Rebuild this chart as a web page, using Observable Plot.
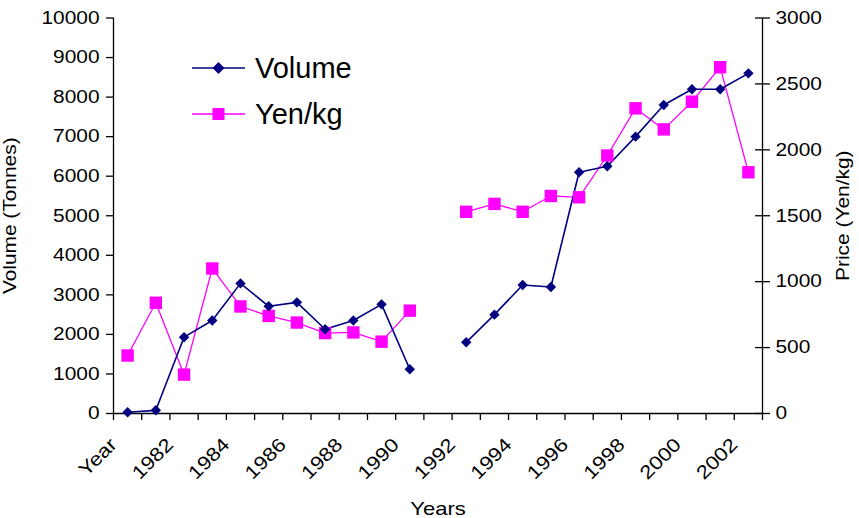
<!DOCTYPE html>
<html><head><meta charset="utf-8">
<script src="https://cdn.jsdelivr.net/npm/d3@7"></script>
<script src="https://cdn.jsdelivr.net/npm/@observablehq/plot@0.6"></script>
<style>
html,body{margin:0;padding:0;background:#fff;}
#wrap{position:relative;width:859px;height:518px;overflow:hidden;background:#fff;}
.legend{position:absolute;left:192px;top:45px;font-family:"Liberation Sans",Arial,sans-serif;font-size:29px;color:#000;}
.row{display:flex;align-items:center;height:46px;white-space:nowrap;}
.row svg{margin-right:8px;display:block;}
</style></head><body><div id="wrap"></div>
<script>
// Categories (first category labelled "Year" in the source chart)
const years = ["Year","1981","1982","1983","1984","1985","1986","1987","1988","1989","1990","1991",
               "1992","1993","1994","1995","1996","1997","1998","1999","2000","2001","2002"];
// Volume (Tonnes) – left axis
const volume = [30, 80, 1930, 2350, 3290, 2710, 2810, 2130, 2350, 2760, 1120, null,
                1800, 2500, 3250, 3200, 6100, 6250, 7000, 7800, 8200, 8200, 8600];
// Price (Yen/kg) – right axis
const price = [440, 840, 295, 1100, 812, 740, 690, 610, 615, 545, 780, null,
               1530, 1590, 1530, 1650, 1640, 1957, 2315, 2155, 2365, 2627, 1830];
const volumeTicks = [0,1000,2000,3000,4000,5000,6000,7000,8000,9000,10000];
const priceTicks = [0,500,1000,1500,2000,2500,3000];
const volumeMax = 10000, priceMax = 3000;
const seriesNames = ["Volume","Yen/kg"];
const volumeColor = "#000080", priceColor = "#ff00ff";

const ratio = volumeMax / priceMax;
const toLeft = p => p * ratio;
const data = years.map((y, i) => ({
  i, year: y,
  volume: volume[i] == null ? null : volume[i],
  price: price[i] == null ? null : toLeft(price[i])
}));
const labelIdx = d3.range(0, years.length, 2);
const boundaries = d3.range(-0.5, years.length, 1);

const FONT = "'Liberation Sans', Arial, sans-serif";
const chart = Plot.plot({
  width: 859, height: 518,
  marginLeft: 113, marginRight: 97, marginTop: 17.5, marginBottom: 105,
  style: {fontFamily: FONT, fontSize: "18px", color: "#000", background: "#fff", overflow: "visible"},
  x: {type: "linear", domain: [-0.5, years.length - 0.5]},
  y: {type: "linear", domain: [0, volumeMax]},
  marks: [
    // axis lines
    Plot.ruleY([0], {stroke: "#000", strokeWidth: 1.3}),
    Plot.ruleX([-0.5, years.length - 0.5], {stroke: "#000", strokeWidth: 1.3}),
    // bottom tick marks between categories
    Plot.axisX({ticks: boundaries, tickSize: 7, tickFormat: () => "", strokeWidth: 1.3, label: null}),
    // bottom labels
    Plot.axisX({ticks: labelIdx, tickSize: 0, tickPadding: 28, tickRotate: -45, tickFormat: i => years[i],
                fontSize: 19, dx: -14, label: "Years", labelAnchor: "center", labelArrow: "none", labelOffset: 101}),
    // left axis
    Plot.axisY({anchor: "left", ticks: volumeTicks, tickSize: 7, tickPadding: 7, strokeWidth: 1.3,
                tickFormat: v => String(v),
                label: "Volume (Tonnes)", labelAnchor: "center", labelArrow: "none", labelOffset: 110}),
    // right axis
    Plot.axisY({anchor: "right", ticks: priceTicks.map(toLeft), tickSize: 7, tickPadding: 6, strokeWidth: 1.3,
                tickFormat: v => String(Math.round(v / ratio)),
                label: "Price (Yen/kg)", labelAnchor: "center", labelArrow: "none", labelOffset: 86}),
    Plot.ruleY(priceTicks, {y: toLeft, x1: years.length - 0.5, x2: years.length - 0.5, insetLeft: -7, stroke: "#000", strokeWidth: 1.3}),
    // series
    Plot.line(data, {x: "i", y: "price", stroke: priceColor, strokeWidth: 1.3}),
    Plot.line(data, {x: "i", y: "volume", stroke: volumeColor, strokeWidth: 1.6}),
    Plot.dot(data, {x: "i", y: "price", symbol: "square", r: 7, fill: priceColor, stroke: "none"}),
    Plot.dot(data, {x: "i", y: "volume", symbol: "diamond2", r: 4.7, fill: volumeColor, stroke: "none"})
  ]
});
const wrap = document.getElementById("wrap");
wrap.appendChild(chart);

const STRETCH = 1.16;
chart.querySelectorAll("text").forEach(t => {
  const L = t.getComputedTextLength();
  if (L > 0) { t.setAttribute("textLength", (L * STRETCH).toFixed(2)); t.setAttribute("lengthAdjust", "spacingAndGlyphs"); }
});

// legend
const legend = document.createElement("div");
legend.className = "legend";
const sym = [
  `<path d="M26.5,4 L32.5,10 L26.5,16 L20.5,10 Z" fill="${volumeColor}"/>`,
  `<rect x="20.5" y="4" width="12" height="12" fill="${priceColor}"/>`
];
[volumeColor, priceColor].forEach((c, k) => {
  const row = document.createElement("div");
  row.className = "row";
  row.innerHTML = `<svg width="55" height="20"><line x1="0" y1="10" x2="53" y2="10" stroke="${c}" stroke-width="1.5"/>${sym[k]}</svg><span>${seriesNames[k]}</span>`;
  legend.appendChild(row);
});
wrap.appendChild(legend);
</script>
</body></html>
